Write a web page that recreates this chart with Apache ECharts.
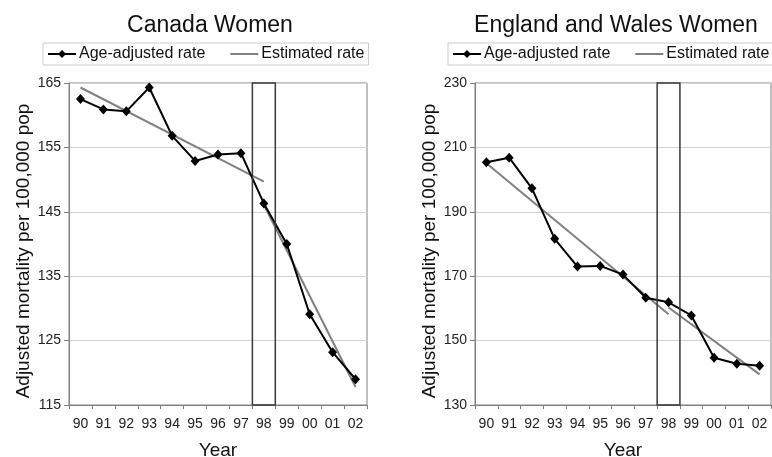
<!DOCTYPE html>
<html>
<head>
<meta charset="utf-8">
<script src="https://cdn.jsdelivr.net/npm/echarts@6/dist/echarts.min.js"></script>
<style>
  html, body { margin: 0; padding: 0; background: #fff; }
  #chart { width: 772px; height: 457px; }
</style>
</head>
<body>
<div id="chart"></div>
<script>
// Year categories shared by both panels
const years = ['90', '91', '92', '93', '94', '95', '96', '97', '98', '99', '00', '01', '02'];
const markedYear = '98';

// Canada, women
const canadaRate = [162.5, 160.9, 160.6, 164.3, 156.8, 152.9, 153.9, 154.1, 146.3, 140.0, 129.1, 123.2, 119.0];
const canadaEstBefore = [['90', 164.3], ['98', 149.7]];
const canadaEstAfter = [['98', 146.1], ['02', 117.8]];
const canadaAxis = [115, 165, 10];

// England and Wales, women
const ewRate = [205.4, 206.8, 197.3, 181.6, 173.0, 173.2, 170.5, 163.3, 161.9, 157.8, 144.7, 142.8, 142.2];
const ewEstBefore = [['90', 205.1], ['98', 158.2]];
const ewEstAfter = [['98', 160.3], ['02', 139.5]];
const ewAxis = [130, 230, 20];

const FONT = 'Liberation Sans, Arial, Helvetica, sans-serif';
const RATE_NAME = 'Age-adjusted rate';
const EST_NAME = 'Estimated rate';

function yAxisFor(gridIndex, range, nameGap) {
  return {
    type: 'value', gridIndex: gridIndex,
    min: range[0], max: range[1], interval: range[2],
    name: 'Adjusted mortality per 100,000 pop',
    nameLocation: 'middle', nameGap: nameGap,
    nameTextStyle: { fontFamily: FONT, fontSize: 19, color: '#111', padding: [0, 14, 0, 0] },
    axisLine: { show: true, lineStyle: { color: '#808080', width: 1 } },
    axisTick: { show: true, length: 5, lineStyle: { color: '#808080' } },
    axisLabel: { margin: 8, fontFamily: FONT, fontSize: 14, color: '#222' },
    splitLine: { show: true, lineStyle: { color: '#d4d4d4', width: 1 } }
  };
}

function xAxisFor(gridIndex) {
  return {
    type: 'category', gridIndex: gridIndex, data: years, boundaryGap: true,
    name: 'Year', nameLocation: 'middle', nameGap: 36,
    nameTextStyle: { fontFamily: FONT, fontSize: 19, color: '#111' },
    axisLine: { show: true, lineStyle: { color: '#808080', width: 1 } },
    axisTick: { show: true, length: 4, alignWithLabel: false, lineStyle: { color: '#808080' } },
    axisLabel: { margin: 12, fontFamily: FONT, fontSize: 14, color: '#222', interval: 0 },
    splitLine: { show: false }
  };
}

// Outlined box over one year's band, spanning the full value range
function markedBox(idx, range) {
  return {
    type: 'custom', xAxisIndex: idx, yAxisIndex: idx, clip: false, z: 5,
    silent: true, legendHoverLink: false,
    data: [[markedYear, range[0], range[1]]],
    encode: { x: 0, y: [1, 2] },
    renderItem: function (params, api) {
      const top = api.coord([api.value(0), api.value(2)]);
      const bottom = api.coord([api.value(0), api.value(1)]);
      const w = api.size([1, 0])[0];
      return {
        type: 'rect',
        shape: { x: top[0] - w / 2, y: top[1], width: w, height: bottom[1] - top[1] },
        style: { fill: 'none', stroke: '#3a3a3a', lineWidth: 1.5 }
      };
    }
  };
}

function estSeries(idx, data) {
  return {
    name: EST_NAME, type: 'line', xAxisIndex: idx, yAxisIndex: idx,
    data: data, symbol: 'none', z: 3,
    lineStyle: { color: '#808080', width: 2 },
    itemStyle: { color: '#808080' }
  };
}

function rateSeries(idx, data) {
  return {
    name: RATE_NAME, type: 'line', xAxisIndex: idx, yAxisIndex: idx,
    data: data, symbol: 'diamond', symbolSize: [9, 10], z: 4,
    lineStyle: { color: '#000', width: 2 },
    itemStyle: { color: '#000' }
  };
}

function legendAt(left, width) {
  return {
    left: left, top: 43, width: width, orient: 'horizontal',
    data: [
      { name: RATE_NAME },
      { name: EST_NAME, itemStyle: { opacity: 0 } }
    ],
    itemWidth: 28, itemHeight: 10, itemGap: 24,
    padding: [3, 4], borderColor: '#cccccc', borderWidth: 1,
    selectedMode: false,
    textStyle: { fontFamily: FONT, fontSize: 16, color: '#111', padding: [0, 0, 0, -2] }
  };
}

const chart = echarts.init(document.getElementById('chart'), null, { renderer: 'canvas' });
chart.setOption({
  animation: false,
  backgroundColor: '#ffffff',
  title: [
    { text: 'Canada Women', left: 205, top: 9, textAlign: 'center',
      textStyle: { fontFamily: FONT, fontSize: 23, fontWeight: 'normal', color: '#111' } },
    { text: 'England and Wales Women', left: 611, top: 9, textAlign: 'center',
      textStyle: { fontFamily: FONT, fontSize: 23, fontWeight: 'normal', color: '#111' } }
  ],
  legend: [legendAt(43, 330), legendAt(448, 340)],
  grid: [
    { left: 69, top: 83, width: 298, height: 322, show: true, borderColor: '#808080', borderWidth: 1,
      outerBoundsMode: 'none', containLabel: false },
    { left: 475, top: 83, width: 296, height: 322, show: true, borderColor: '#808080', borderWidth: 1,
      outerBoundsMode: 'none', containLabel: false }
  ],
  xAxis: [xAxisFor(0), xAxisFor(1)],
  yAxis: [yAxisFor(0, canadaAxis, 34), yAxisFor(1, ewAxis, 31)],
  series: [
    estSeries(0, canadaEstBefore),
    estSeries(0, canadaEstAfter),
    rateSeries(0, canadaRate),
    markedBox(0, canadaAxis),
    estSeries(1, ewEstBefore),
    estSeries(1, ewEstAfter),
    rateSeries(1, ewRate),
    markedBox(1, ewAxis)
  ]
});
</script>
</body>
</html>
